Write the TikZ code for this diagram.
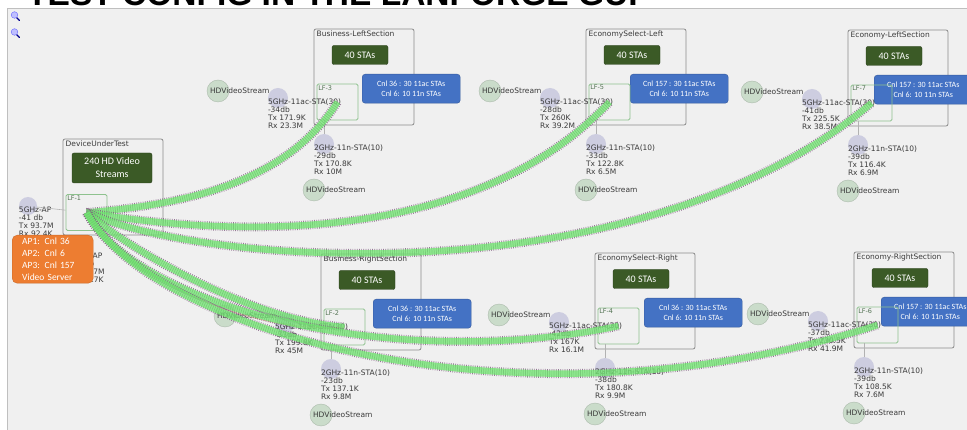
\documentclass[tikz,border=0pt]{standalone}
\usepackage{fontspec}
\setmainfont{DejaVu Sans}
\newfontfamily\boxfont{Carlito}
\newfontfamily\titlefont{Liberation Sans}
\usepackage{tikz}

\definecolor{panelgray}{HTML}{F0F0F0}
\definecolor{framegray}{HTML}{8A8A8A}
\definecolor{stagreen}{HTML}{3B5A26}
\definecolor{cnlblue}{HTML}{4472C4}
\definecolor{lfgreen}{HTML}{8EC28E}
\definecolor{stalilac}{HTML}{CDCDE0}
\definecolor{vidgreen}{HTML}{CADCCA}
\definecolor{aporange}{HTML}{ED7D31}
\definecolor{flowgreen}{HTML}{6FE86F}
\definecolor{labelgray}{HTML}{3A3A3A}

\tikzset{
	sectionframe/.style={draw=framegray, rounded corners=2pt, line width=0.8pt},
	sectionlabel/.style={anchor=north west, inner sep=0.5pt, text=labelgray, font=\fontsize{7.5}{8}\selectfont},
	stacount/.style={fill=stagreen, draw=stagreen!70!black, rounded corners=2pt, text=white, minimum width=56pt, minimum height=19pt, inner sep=1pt, align=center, font=\boxfont\fontsize{10}{13}\selectfont},
	cnlbox/.style={fill=cnlblue, draw=cnlblue!80!black, rounded corners=3pt, text=white, minimum width=98pt, minimum height=29pt, inner sep=1pt, align=center, anchor=north west, font=\boxfont\fontsize{8}{10.5}\selectfont},
	lfbox/.style={draw=lfgreen, line width=0.9pt, rounded corners=1.5pt, minimum width=41pt, minimum height=36pt, inner sep=0pt},
	lflabel/.style={anchor=north west, inner sep=1.5pt, text=lfgreen!60!black, font=\fontsize{6.5}{7}\selectfont},
	stacircle/.style={circle, fill=stalilac, minimum size=20pt, inner sep=0pt},
	vidcircle/.style={circle, fill=vidgreen, draw=vidgreen!85!black, minimum size=22pt, inner sep=0pt},
	stainfo/.style={anchor=north west, inner sep=0pt, yshift=-1pt, align=left, text=labelgray, font=\fontsize{7.5}{7.8}\selectfont},
	vidlabel/.style={anchor=west, inner sep=0pt, xshift=3pt, text=labelgray, font=\fontsize{7.5}{8}\selectfont},
	thinlink/.style={draw=gray!60, line width=0.6pt},
	flow/.style={draw=flowgreen, draw opacity=0.75, line width=6.5pt, preaction={draw=gray!70!violet, draw opacity=0.8, line width=9pt, dash pattern=on 0.7pt off 1.5pt}},
	serverbox/.style={fill=aporange, draw=aporange!85!black, rounded corners=5pt, text=white, anchor=north west, minimum height=48pt, text width=61pt, inner xsep=10pt, inner ysep=2pt, align=left, font=\boxfont\fontsize{9.5}{11.8}\selectfont}
}

\newcommand{\stasection}[8]{%
	\begin{scope}[shift={(#1)}]
		\draw[sectionframe] (0,0) rectangle (100,96);
		\node[sectionlabel] at (2,1.5) {#3};
		\node[stacount] (#2-cnt) at (46,26) {40 STAs};
		\node[cnlbox] (#2-cnl) at (#5,45) {Cnl #6 : 30 11ac STAs\\Cnl 6: 10 11n STAs};
		\node[lfbox] (#2-lf) at (23.5,73) {};
		\node[lflabel] at (#2-lf.north west) {LF-#4};
		\node[vidcircle] (#2-v5) at (-96,62) {};
		\node[vidlabel] at (#2-v5.west) {HDVideoStream};
		\node[stacircle] (#2-s5) at (-36,69) {};
		\node[stainfo] at (#2-s5.west) {5GHz-11ac-STA(30)\\#7};
		\node[stacircle] (#2-s2) at (10,115) {};
		\node[stainfo] at (#2-s2.west) {2GHz-11n-STA(10)\\#8};
		\node[vidcircle] (#2-v2) at (0,161) {};
		\node[vidlabel] at (#2-v2.west) {HDVideoStream};
		\draw[thinlink] (#2-lf.south -| #2-s2) -- (#2-s2);
	\end{scope}}

\begin{document}
\begin{tikzpicture}[x=1pt, y=-1pt]
	\useasboundingbox (0,0) rectangle (967,430);
	\clip (0,0) rectangle (967,430);
	\fill[white] (0,0) rectangle (967,430);
	\draw[fill=panelgray, draw=gray!50] (7,8) rectangle (975,440);
	\node[anchor=base west, inner sep=0pt, font=\titlefont\bfseries\fontsize{33.5}{34}\selectfont] (title) at (27,6) {TEST CONFIG IN THE LANFORGE GUI};

	\foreach \y in {15,32} {
		\draw[blue!55!black, line width=1.3pt, line cap=round] (16.5,\y+2.5) -- (19.5,\y+5.5);
		\draw[fill=blue!25, draw=blue!60] (14.5,\y) circle (3.3pt);
	}

	\stasection{314,29}{bl}{Business-LeftSection}{3}{48}{36}{-34db\\Tx 171.9K\\Rx 23.3M}{-29db\\Tx 170.8K\\Rx 10M}
	\stasection{586,29}{esl}{EconomySelect-Left}{5}{44}{157}{-28db\\Tx 260K\\Rx 39.2M}{-33db\\Tx 122.8K\\Rx 6.5M}
	\stasection{848,30}{el}{Economy-LeftSection}{7}{26}{157}{-41db\\Tx 225.5K\\Rx 38.5M}{-39db\\Tx 116.4K\\Rx 6.9M}
	\stasection{321,254}{br}{Business-RightSection}{2}{52}{36}{-33db\\Tx 199.8K\\Rx 45M}{-23db\\Tx 137.1K\\Rx 9.8M}
	\stasection{595,253}{esr}{EconomySelect-Right}{4}{49}{36}{-42db\\Tx 167K\\Rx 16.1M}{-38db\\Tx 180.8K\\Rx 9.9M}
	\stasection{854,252}{er}{Economy-RightSection}{6}{27}{157}{-37db\\Tx 230.5K\\Rx 41.9M}{-39db\\Tx 108.5K\\Rx 7.6M}

	\draw[sectionframe] (63,139) rectangle (163,235);
	\node[sectionlabel] (dut-label) at (65,140.5) {DeviceUnderTest};
	\node[stacount, minimum width=80pt, minimum height=30pt] (dut-cnt) at (112,168) {240 HD Video\\Streams};
	\node[lfbox] (dut-lf) at (86.5,212.5) {};
	\node[lflabel] at (dut-lf.north west) {LF-1};

	\node[stacircle, minimum size=18pt] (ap5) at (28,206) {};
	\node[stainfo] at (ap5.west) {5GHz-AP\\-41 db\\Tx 93.7M\\Rx 92.4K};
	\draw[thinlink] (ap5) -- (dut-lf);
	\node[stacircle, minimum size=18pt] (ap2) at (79,252) {};
	\node[stainfo] at (ap2.west) {2GHz-AP\\-38 db\\Tx 11.7M\\Rx 89.7K};

	\draw[draw=brown!55, line width=0.7pt] (dut-lf.center) .. controls (115,268) and (240,335) .. (br-lf.center);
	\draw[flow] (dut-lf.center) .. controls (180,205) and (285,185) .. (bl-lf.center);
	\draw[flow] (dut-lf.center) .. controls (250,240) and (480,240) .. (esl-lf.center);
	\draw[flow] (dut-lf.center) .. controls (200,265) and (640,300) .. (el-lf.center);
	\draw[flow] (dut-lf.center) .. controls (130,250) and (250,320) .. (br-lf.center);
	\draw[flow] (dut-lf.center) .. controls (140,310) and (400,372) .. (esr-lf.center);
	\draw[flow] (dut-lf.center) .. controls (150,330) and (520,440) .. (er-lf.center);

	\node[serverbox] (server) at (12,235) {AP1: Cnl 36\\AP2: Cnl 6\\AP3: Cnl 157\\Video Server};
\end{tikzpicture}
\end{document}
